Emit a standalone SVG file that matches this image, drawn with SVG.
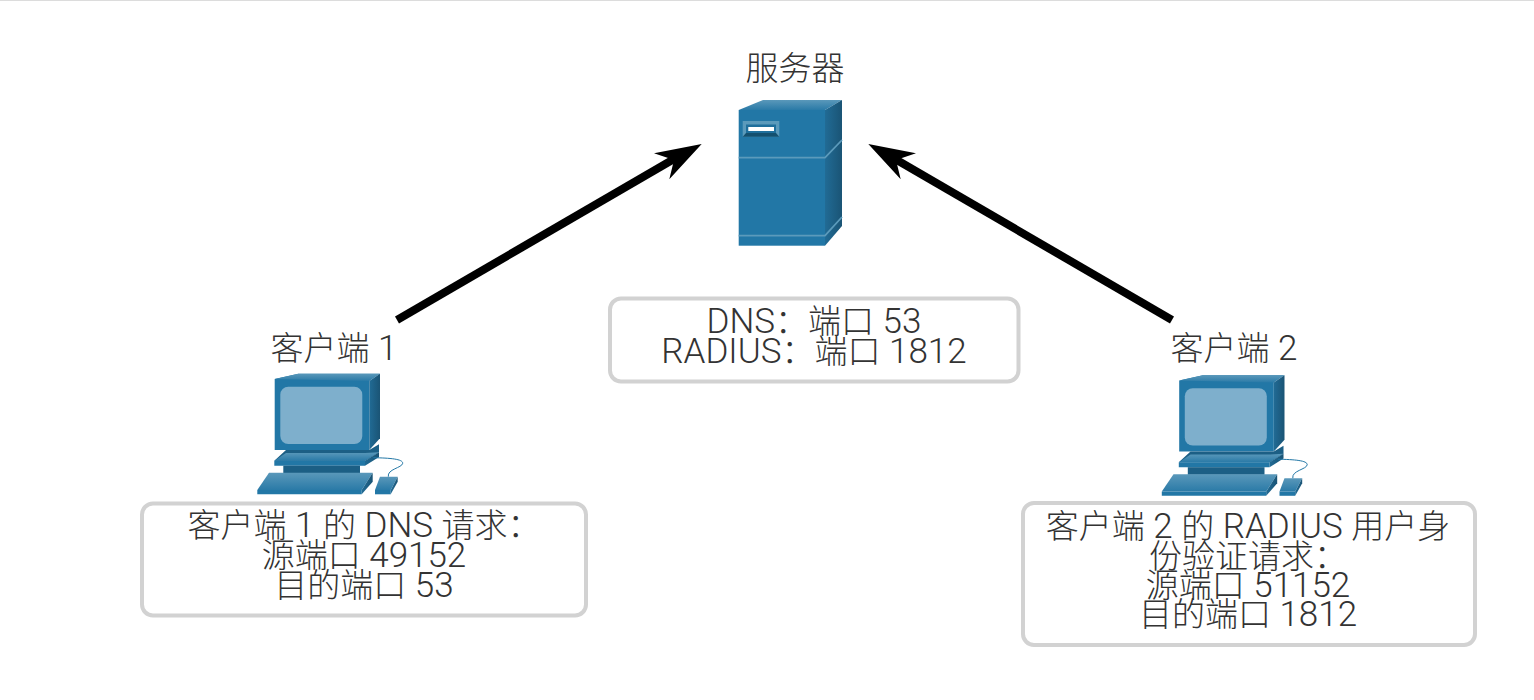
<svg xmlns="http://www.w3.org/2000/svg" xmlns:xlink="http://www.w3.org/1999/xlink" width="1534" height="700" viewBox="0 0 1534 700">
<style>
text{font-family:Roboto,"Noto Sans CJK SC",sans-serif;font-size:33px;font-weight:300;fill:#333;text-anchor:middle}
.l{font-size:35px}
.box{fill:#fff;stroke:#d2d2d2;stroke-width:4}
.conn{stroke:#000;stroke-width:8;fill:none}
.head{fill:#000}
.f{fill:#2277a6}
.s{fill:url(#side)}
.t{fill:url(#top)}
.d{fill:#1c5f85}
.band{fill:none;stroke:#5b9abb;stroke-width:1.8}
</style>
<defs>
<linearGradient id="side" x1="0" x2="1" y1="0" y2="0"><stop offset="0" stop-color="#216b95"/><stop offset="1" stop-color="#1a5475"/></linearGradient>
<linearGradient id="top" x1="0" x2="0" y1="0" y2="1"><stop offset="0" stop-color="#5a98ba"/><stop offset="1" stop-color="#2a7aa7"/></linearGradient>
<g id="pc">
<polygon class="f" points="274.7,379 298.3,373.7 380,373.7 369.3,379 369.3,450 274.7,450"/>
<polygon class="t" points="274.7,379 298.3,373.7 380,373.7 369.3,381"/>
<polygon class="s" points="369.3,381 380,373.7 380,438.3 369.3,450"/>
<rect x="280.3" y="386.7" width="82" height="57.3" rx="8" fill="#7eafcc"/>
<polygon class="d" points="286,450 369.3,450 379,444.3 379,452.3 365,460.7 274.3,460.7"/>
<polygon class="t" points="274.3,460.7 286,453 365,453 379,452.3 365,460.7"/>
<polygon class="f" points="274.3,460.7 365,460.7 365,465.7 274.3,465.7"/>
<polygon class="s" points="365,460.7 379,452.3 379,457 365,465.7"/>
<rect class="d" x="283.3" y="465.7" width="76.7" height="7.6"/>
<polygon class="t" points="257.3,490 269,472.7 372.7,472.7 361.7,490"/>
<polygon class="f" points="257.3,490 361.7,490 361.7,494.3 257.3,494.3"/>
<polygon class="s" points="361.7,490 372.7,472.7 372.7,481.7 361.7,494.3"/>
<polygon class="t" points="375,490 380,476.7 397.7,476.7 390.7,490"/>
<polygon class="f" points="375,490 390.7,490 390.7,494.3 375,494.3"/>
<polygon class="s" points="390.7,490 397.7,476.7 397.7,481.7 390.7,494.3"/>
<path d="M373.3,457.7C390,458 403,459 402.7,463.3C402,468 387,469 388.3,476.7" fill="none" stroke="#2277a6" stroke-width="1"/>
</g>
</defs>
<rect x="0" y="0" width="1534" height="1" fill="#dcdcdc"/>
<g id="connectors">
<line class="conn" x1="397" y1="320" x2="680" y2="155.5"/>
<polygon class="head" points="701.7,144 669.3,179.3 674,160 654,153.3"/>
<line class="conn" x1="1172" y1="320" x2="889" y2="155.5"/>
<polygon class="head" points="868.3,144 900.7,179.3 896,160 916,153.3"/>
</g>
<g id="server">
<text x="795" y="80">服务器</text>
<polygon class="t" points="738.7,110 763,100 842,100 825,110"/>
<rect class="f" x="738.7" y="110" width="86.3" height="135.7"/>
<polygon class="s" points="825,110 842,100 842,226 825,245.7"/>
<path class="band" d="M738.7,157.7H825L842,140"/>
<path class="band" d="M738.7,235.7H825L842,217"/>
<rect x="742.7" y="121" width="36.6" height="15.7" fill="#5b9abb"/>
<polygon points="742.7,136.7 779.3,136.7 776,133 746,133" fill="#14506f"/>
<rect x="746" y="124.5" width="30" height="8.5" fill="#1f6f9c"/>
<rect x="748.3" y="127" width="25.7" height="4" fill="#fff"/>
</g>
<g id="server-ports">
<rect class="box" x="610" y="298.5" width="408.5" height="83" rx="11"/>
<text x="814" y="332.5"><tspan class="l">DNS</tspan>：端口<tspan class="l"> 53</tspan></text>
<text x="814" y="363"><tspan class="l">RADIUS</tspan>：端口<tspan class="l"> 1812</tspan></text>
</g>
<g id="client1">
<text x="334" y="360">客户端<tspan class="l"> 1</tspan></text>
<use xlink:href="#pc" href="#pc"/>
</g>
<g id="client1-request">
<rect class="box" x="142" y="503.5" width="444" height="112" rx="11"/>
<text x="364" y="537">客户端<tspan class="l"> 1 </tspan>的<tspan class="l"> DNS </tspan>请求：</text>
<text x="364" y="567">源端口<tspan class="l"> 49152</tspan></text>
<text x="364" y="597">目的端口<tspan class="l"> 53</tspan></text>
</g>
<g id="client2">
<text x="1234" y="360">客户端<tspan class="l"> 2</tspan></text>
<use xlink:href="#pc" href="#pc" x="904.5" y="1.5"/>
</g>
<g id="client2-request">
<rect class="box" x="1023" y="503" width="452" height="142" rx="11"/>
<text x="1248" y="538">客户端<tspan class="l"> 2 </tspan>的<tspan class="l"> RADIUS </tspan>用户身</text>
<text x="1248" y="567.5">份验证请求：</text>
<text x="1248" y="597">源端口<tspan class="l"> 51152</tspan></text>
<text x="1248" y="626">目的端口<tspan class="l"> 1812</tspan></text>
</g>
</svg>
